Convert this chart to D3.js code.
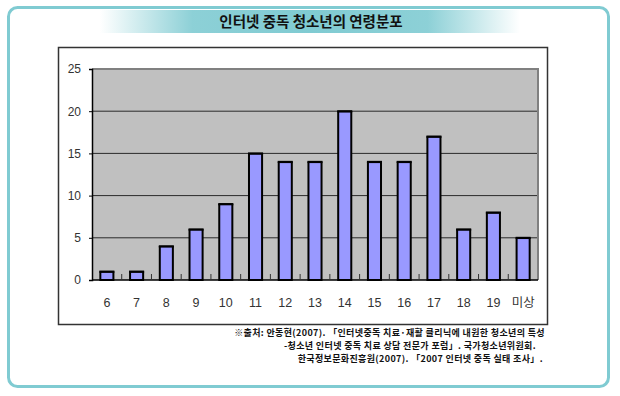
<!DOCTYPE html>
<html>
<head>
<meta charset="utf-8">
<script src="https://cdn.jsdelivr.net/npm/d3@7"></script>
<style>
  body { margin: 0; background: #fff; }
  svg { display: block; }
</style>
</head>
<body>
<svg id="chart" width="620" height="396"></svg>
<script>
// data
var ages = ["6", "7", "8", "9", "10", "11", "12", "13", "14", "15", "16", "17", "18", "19", "미상"];
var counts = [1, 1, 4, 6, 9, 15, 14, 14, 20, 14, 14, 17, 6, 8, 5];
var yTicks = [0, 5, 10, 15, 20, 25];
var title = "인터넷 중독 청소년의 연령분포";
var source = [
  "※출처: 안동현(2007). 「인터넷중독 치료·재활 클리닉에 내원한 청소년의 특성",
  "-청소년 인터넷 중독 치료 상담 전문가 포럼」. 국가청소년위원회.",
  "한국정보문화진흥원(2007). 「2007 인터넷 중독 실태 조사」."
];

var svg = d3.select("#chart");
var teal = "#80cbd2";
var kr = "'Noto Sans CJK KR', 'Noto Sans', sans-serif";

// outer frame
var defs = svg.append("defs");
var grad = defs.append("linearGradient").attr("id", "band");
grad.append("stop").attr("offset", "0%").attr("stop-color", teal).attr("stop-opacity", 0);
grad.append("stop").attr("offset", "22%").attr("stop-color", teal).attr("stop-opacity", 0.9);
grad.append("stop").attr("offset", "50%").attr("stop-color", teal).attr("stop-opacity", 1);
grad.append("stop").attr("offset", "78%").attr("stop-color", teal).attr("stop-opacity", 0.9);
grad.append("stop").attr("offset", "100%").attr("stop-color", teal).attr("stop-opacity", 0);

svg.append("rect")
  .attr("x", 8.5).attr("y", 7.5)
  .attr("width", 600).attr("height", 379)
  .attr("rx", 9)
  .attr("fill", "#fff")
  .attr("stroke", teal)
  .attr("stroke-width", 3);

svg.append("rect")
  .attr("x", 100).attr("y", 10)
  .attr("width", 420).attr("height", 23)
  .attr("fill", "url(#band)");

svg.append("text")
  .attr("x", 311).attr("y", 27)
  .attr("text-anchor", "middle")
  .attr("font-family", kr)
  .attr("font-weight", "bold")
  .attr("font-size", "14.5px")
  .attr("fill", "#111")
  .text(title);

// chart box
svg.append("rect")
  .attr("x", 58.5).attr("y", 47.5)
  .attr("width", 489).attr("height", 277)
  .attr("fill", "#fff")
  .attr("stroke", "#333")
  .attr("stroke-width", 1.5);

var margin = { left: 92, top: 69, right: 538, bottom: 280 };
var width = margin.right - margin.left;
var height = margin.bottom - margin.top;

var g = svg.append("g")
  .attr("transform", "translate(" + margin.left + "," + margin.top + ")");

var x = d3.scaleBand()
  .domain(ages)
  .range([0, width]);

var y = d3.scaleLinear()
  .domain([0, 25])
  .range([height, 0]);

// plot background
g.append("rect")
  .attr("width", width).attr("height", height)
  .attr("fill", "#c0c0c0");

// grid lines
g.selectAll(".grid")
  .data(yTicks.filter(function(d) { return d > 0 && d < 25; }))
  .enter().append("line")
  .attr("x1", 0).attr("x2", width)
  .attr("y1", function(d) { return y(d); })
  .attr("y2", function(d) { return y(d); })
  .attr("stroke", "#2a2a2a")
  .attr("stroke-width", 1);

// top and right border of plot
g.append("path")
  .attr("d", "M0," + y(25) + "H" + width + "V" + height)
  .attr("fill", "none")
  .attr("stroke", "#808080")
  .attr("stroke-width", 2);

// bars
var bw = x.bandwidth() * 0.44;
g.selectAll(".bar")
  .data(counts)
  .enter().append("rect")
  .attr("class", "bar")
  .attr("x", function(d, i) { return x(ages[i]) + (x.bandwidth() - bw) / 2; })
  .attr("y", function(d) { return y(d); })
  .attr("width", bw)
  .attr("height", function(d) { return height - y(d); })
  .attr("fill", "#9999ff")
  .attr("stroke", "#000")
  .attr("stroke-width", 2);

// thicker top edge on bars
g.selectAll(".bartop")
  .data(counts)
  .enter().append("line")
  .attr("x1", function(d, i) { return x(ages[i]) + (x.bandwidth() - bw) / 2 - 1; })
  .attr("x2", function(d, i) { return x(ages[i]) + (x.bandwidth() + bw) / 2 + 1; })
  .attr("y1", function(d) { return y(d) + 0.5; })
  .attr("y2", function(d) { return y(d) + 0.5; })
  .attr("stroke", "#000")
  .attr("stroke-width", 1.5);

// x axis: ticks at category boundaries pointing up
var xAxis = g.append("g")
  .attr("transform", "translate(0," + height + ")");
xAxis.append("line")
  .attr("x1", 0).attr("x2", width)
  .attr("stroke", "#000").attr("stroke-width", 1.5);
xAxis.selectAll(".tk")
  .data(ages.slice(1))
  .enter().append("line")
  .attr("x1", function(d) { return x(d); })
  .attr("x2", function(d) { return x(d); })
  .attr("y1", 0).attr("y2", -6)
  .attr("stroke", "#333").attr("stroke-width", 1);
xAxis.selectAll(".lbl")
  .data(ages)
  .enter().append("text")
  .attr("x", function(d) { return x(d) + x.bandwidth() / 2; })
  .attr("y", 27)
  .attr("text-anchor", "middle")
  .attr("font-family", function(d) { return isNaN(+d) ? kr : "'Liberation Sans', Arial, sans-serif"; })
  .attr("font-size", "12.5px")
  .attr("fill", "#333")
  .text(function(d) { return d; });

// y axis
var yAxis = g.append("g")
  .call(d3.axisLeft(y).tickValues(yTicks).tickSize(3).tickPadding(8));
yAxis.select(".domain").attr("stroke", "#000").attr("stroke-width", 1.5);
yAxis.selectAll(".tick line").attr("stroke", "#000");
yAxis.selectAll(".tick text")
  .attr("font-family", "'Liberation Sans', Arial, sans-serif")
  .attr("font-size", "12px")
  .attr("fill", "#333");

// source note
svg.selectAll(".src")
  .data(source)
  .enter().append("text")
  .attr("x", function(d, i) { return [545, 536, 543][i]; })
  .attr("y", function(d, i) { return 336 + i * 13.2; })
  .attr("text-anchor", "end")
  .attr("font-family", kr)
  .attr("font-weight", "bold")
  .attr("font-size", "9px")
  .attr("letter-spacing", "0.35px")
  .attr("fill", "#111")
  .text(function(d) { return d; });
</script>
</body>
</html>
